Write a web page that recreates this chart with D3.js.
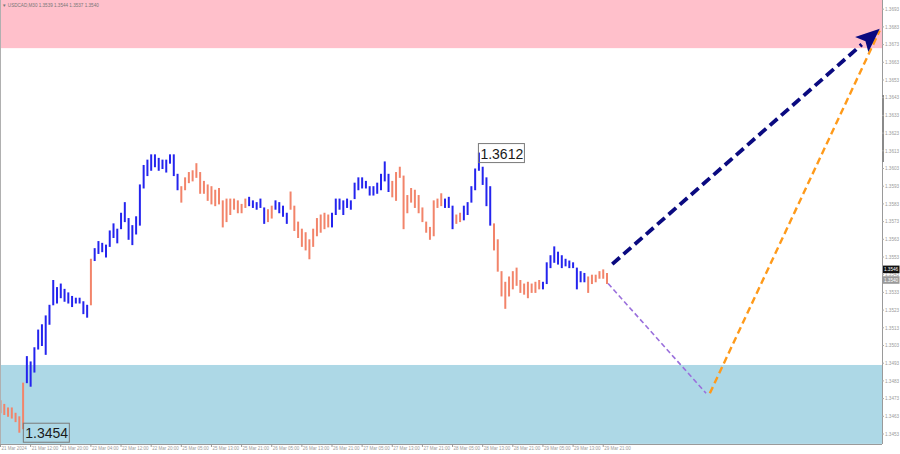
<!DOCTYPE html>
<html><head><meta charset="utf-8">
<script src="https://cdn.jsdelivr.net/npm/d3@7"></script>
<style>body{margin:0;background:#fff}svg{display:block}</style>
</head><body><svg id="c" width="900" height="454"></svg>
<script>
const title = "USDCAD,M30  1.3539 1.3544 1.3537 1.3540";
const highs = [1.3472,1.3470,1.3468,1.3468,1.3465,1.3463,1.3482,1.3497,1.3494,1.3502,
 1.3512,1.3515,1.3520,1.3526,1.3540,1.3536,1.3538,1.3535,1.3533,1.3531,
 1.3530,1.3530,1.3528,1.3526,1.3552,1.3558,1.3562,1.3561,1.3560,1.3568,
 1.3572,1.3569,1.3578,1.3584,1.3575,1.3571,1.3576,1.3594,1.3605,1.3608,
 1.3611,1.3611,1.3609,1.3608,1.3608,1.3611,1.3611,1.3600,1.3593,1.3598,
 1.3601,1.3602,1.3606,1.3601,1.3596,1.3594,1.3593,1.3591,1.3592,1.3585,
 1.3586,1.3586,1.3586,1.3585,1.3583,1.3586,1.3587,1.3585,1.3584,1.3586,
 1.3581,1.3580,1.3582,1.3585,1.3584,1.3582,1.3578,1.3590,1.3582,1.3573,
 1.3569,1.3567,1.3563,1.3569,1.3575,1.3577,1.3578,1.3577,1.3578,1.3586,
 1.3586,1.3585,1.3586,1.3585,1.3595,1.3598,1.3598,1.3596,1.3593,1.3593,
 1.3595,1.3600,1.3607,1.3600,1.3596,1.3601,1.3604,1.3599,1.3588,1.3592,
 1.3591,1.3588,1.3581,1.3573,1.3570,1.3585,1.3586,1.3589,1.3586,1.3587,
 1.3582,1.3577,1.3578,1.3582,1.3584,1.3593,1.3603,1.3612,1.3604,1.3598,
 1.3593,1.3572,1.3563,1.3545,1.3539,1.3542,1.3545,1.3547,1.3540,1.3538,
 1.3539,1.3538,1.3539,1.3540,1.3539,1.3550,1.3554,1.3559,1.3556,1.3554,
 1.3552,1.3551,1.3550,1.3547,1.3545,1.3544,1.3542,1.3543,1.3543,1.3545,
 1.3546,1.3544];
const lows = [1.3465,1.3464,1.3463,1.3462,1.3460,1.3454,1.3456,1.3482,1.3480,1.3488,
 1.3501,1.3503,1.3498,1.3515,1.3526,1.3527,1.3530,1.3528,1.3527,1.3525,
 1.3527,1.3527,1.3521,1.3519,1.3526,1.3551,1.3555,1.3556,1.3553,1.3559,
 1.3564,1.3561,1.3569,1.3573,1.3563,1.3560,1.3566,1.3571,1.3592,1.3599,
 1.3602,1.3604,1.3602,1.3603,1.3601,1.3606,1.3599,1.3591,1.3584,1.3591,
 1.3595,1.3596,1.3598,1.3589,1.3589,1.3585,1.3583,1.3582,1.3583,1.3570,
 1.3573,1.3577,1.3580,1.3578,1.3578,1.3581,1.3582,1.3581,1.3580,1.3581,
 1.3572,1.3573,1.3575,1.3580,1.3578,1.3576,1.3572,1.3580,1.3568,1.3564,
 1.3559,1.3557,1.3552,1.3559,1.3565,1.3567,1.3569,1.3570,1.3570,1.3577,
 1.3580,1.3577,1.3581,1.3580,1.3586,1.3591,1.3592,1.3592,1.3588,1.3588,
 1.3589,1.3591,1.3596,1.3590,1.3587,1.3585,1.3598,1.3569,1.3578,1.3584,
 1.3581,1.3578,1.3573,1.3567,1.3563,1.3565,1.3581,1.3582,1.3581,1.3581,
 1.3569,1.3572,1.3573,1.3574,1.3577,1.3584,1.3591,1.3602,1.3594,1.3582,
 1.3571,1.3557,1.3545,1.3531,1.3524,1.3531,1.3535,1.3537,1.3533,1.3532,
 1.3530,1.3533,1.3533,1.3535,1.3535,1.3538,1.3547,1.3550,1.3549,1.3547,
 1.3548,1.3547,1.3547,1.3535,1.3539,1.3539,1.3533,1.3538,1.3539,1.3541,
 1.3541,1.3538];
// wave segments: [first bar, last bar, direction]
const waves = [[0,6,"down"],[7,23,"up"],[24,24,"down"],[25,47,"up"],[48,65,"down"],
 [66,70,"up"],[71,72,"down"],[73,76,"up"],[77,87,"down"],[88,103,"up"],
 [104,117,"down"],[118,120,"up"],[121,122,"down"],[123,130,"up"],[131,143,"down"],
 [144,155,"up"],[156,161,"down"]];
const timeLabels = ["21 Mar 2024","21 Mar 12:00","21 Mar 20:00","22 Mar 04:00","22 Mar 12:00",
 "22 Mar 20:00","25 Mar 05:00","25 Mar 13:00","25 Mar 21:00","26 Mar 05:00","26 Mar 13:00",
 "26 Mar 21:00","27 Mar 05:00","27 Mar 13:00","27 Mar 21:00","28 Mar 05:00","28 Mar 13:00",
 "28 Mar 21:00","29 Mar 05:00","29 Mar 13:00","29 Mar 21:00"];
const timeLabelBars = [0,8,16,24,32,40,48,56,64,72,80,88,96,104,112,120,128,136,144,152,160];
const priceTicks = [1.3693,1.3683,1.3673,1.3663,1.3653,1.3643,1.3633,1.3623,1.3613,1.3603,
 1.3593,1.3583,1.3573,1.3563,1.3553,1.3543,1.3533,1.3523,1.3513,1.3503,1.3493,1.3483,
 1.3473,1.3463,1.3453];
const resistZone = [1.3671, 1.3730];
const supportZone = [1.34474, 1.3492];
const pathPurple = [[161.3,1.3538],[187.3,1.3476]];
const pathOrange = [[188.3,1.3476],[233.4,1.3681]];
const pathNavy = [[162.4,1.3549],[233.4,1.3682]];
const extremes = [{bar:127, price:1.3612, text:"1.3612"},{bar:5, price:1.3454, text:"1.3454"}];
const priceBoxes = [{price:1.3546, text:"1.3546", fill:"#111"},{price:1.3540, text:"1.3540", fill:"#9a9a9a"}];

const svg = d3.select("#c");
const plotR = 882, plotB = 444;
const x = d3.scaleLinear().domain([0,161]).range([0.5,607]);
const y = d3.scaleLinear().domain([1.3453,1.3693]).range([434,9.2]);
const small = "Liberation Sans, Arial, sans-serif";

const defs = svg.append("defs");
defs.append("clipPath").attr("id","plot").append("rect").attr("x",0).attr("y",0).attr("width",plotR).attr("height",plotB);
const plot = svg.append("g").attr("clip-path","url(#plot)");

plot.append("rect").attr("x",0).attr("width",plotR)
 .attr("y",y(resistZone[1])).attr("height",y(resistZone[0])-y(resistZone[1])).attr("fill","#ffc0cb");
plot.append("rect").attr("x",0).attr("width",plotR)
 .attr("y",y(supportZone[1])).attr("height",y(supportZone[0])-y(supportZone[1])).attr("fill","#add8e6");

// bars
const dirOf = i => { for (const w of waves) if (i>=w[0] && i<=w[1]) return w[2]; return "down"; };
const colors = {up:"#2424ee", down:"#f2846a"};
plot.append("g").selectAll("line").data(highs).join("line")
 .attr("x1",(d,i)=>x(i)).attr("x2",(d,i)=>x(i))
 .attr("y1",d=>y(d)).attr("y2",(d,i)=>y(lows[i])+0.5)
 .attr("stroke",(d,i)=>colors[dirOf(i)]).attr("stroke-width",2);

// forecast lines
const line = d3.line().x(d=>x(d[0])).y(d=>y(d[1]));
plot.append("path").attr("d",line(pathPurple)).attr("fill","none")
 .attr("stroke","#9a6fdc").attr("stroke-width",1.6).attr("stroke-dasharray","5,3");
plot.append("path").attr("d",line(pathOrange)).attr("fill","none")
 .attr("stroke","#ff9a1a").attr("stroke-width",2.4).attr("stroke-dasharray","7,4");
// navy arrow: stop the shaft before the head
const [a0,a1] = pathNavy;
const X0=x(a0[0]),Y0=y(a0[1]),X1=x(a1[0]),Y1=y(a1[1]);
const L=Math.hypot(X1-X0,Y1-Y0), ux=(X1-X0)/L, uy=(Y1-Y0)/L;
const headL=24, headW=10;
plot.append("line").attr("x1",X0).attr("y1",Y0).attr("x2",X1-ux*headL).attr("y2",Y1-uy*headL)
 .attr("stroke","#0a0a80").attr("stroke-width",3.8).attr("stroke-dasharray","10,5");
const bx=X1-ux*headL, by=Y1-uy*headL;
plot.append("polygon").attr("points",[[X1,Y1],[bx-uy*headW,by+ux*headW],[bx+ux*5,by+uy*5],[bx+uy*headW,by-ux*headW]].map(p=>p.join(",")).join(" "))
 .attr("fill","#0a0a80");

// extreme labels
extremes.forEach((e,k)=>{
  const bx0 = k===0 ? x(e.bar)-0.5 : x(e.bar)+4;
  const by0 = y(e.price) - 9;
  plot.append("rect").attr("x",bx0).attr("y",by0).attr("width",46).attr("height",19)
   .attr("fill","none").attr("stroke","#7a7a7a").attr("stroke-width",1);
  plot.append("text").attr("x",bx0+2).attr("y",by0+15).text(e.text)
   .attr("font-family",small).attr("font-size",14).attr("fill","#1a1a1a");
});

// title
svg.append("text").attr("x",2).attr("y",7).text("\u25BC "+title)
 .attr("font-family",small).attr("font-size",4.6).attr("fill","#777");

// right axis
svg.append("line").attr("x1",plotR+0.5).attr("x2",plotR+0.5).attr("y1",0).attr("y2",plotB).attr("stroke","#9a9a9a");
svg.append("rect").attr("x",plotR).attr("y",95).attr("width",2).attr("height",67).attr("fill","#8a8a8a");
const ra = svg.append("g");
priceTicks.forEach(p=>{
  ra.append("line").attr("x1",plotR).attr("x2",plotR+2).attr("y1",y(p)).attr("y2",y(p)).attr("stroke","#aaa");
  ra.append("text").attr("x",plotR+3).attr("y",y(p)+1.7).text(p.toFixed(4))
   .attr("font-family",small).attr("font-size",4.6).attr("fill","#9a9a9a");
});
priceBoxes.slice().reverse().forEach(b=>{
  svg.append("rect").attr("x",plotR+1).attr("y",y(b.price)-3.8).attr("width",16.5).attr("height",7.6).attr("fill",b.fill);
  svg.append("text").attr("x",plotR+2).attr("y",y(b.price)+1.7).text(b.text)
   .attr("font-family",small).attr("font-size",4.6).attr("fill","#fff");
});

// bottom axis
svg.append("line").attr("x1",0).attr("x2",plotR).attr("y1",plotB+0.5).attr("y2",plotB+0.5).attr("stroke","#9a9a9a");
svg.append("line").attr("x1",0.5).attr("x2",0.5).attr("y1",0).attr("y2",plotB).attr("stroke","#b0b0b0");
timeLabels.forEach((t,k)=>{
  const tx = x(timeLabelBars[k]);
  svg.append("line").attr("x1",tx).attr("x2",tx).attr("y1",plotB).attr("y2",plotB+3).attr("stroke","#999");
  svg.append("text").attr("x",tx+1).attr("y",plotB+6).text(t)
   .attr("font-family",small).attr("font-size",4.5).attr("fill","#9a9a9a");
});
</script></body></html>
